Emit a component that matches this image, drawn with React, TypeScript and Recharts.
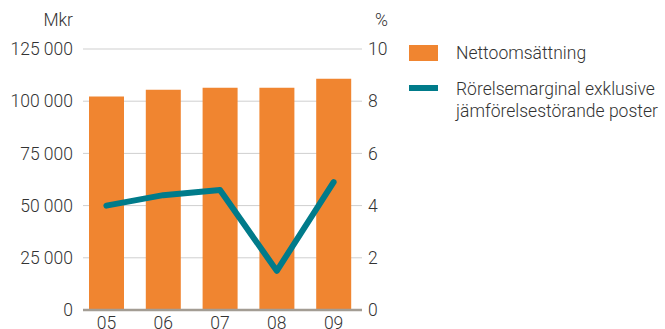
import {
  ComposedChart,
  Bar,
  Line,
  XAxis,
  YAxis,
  CartesianGrid,
  Legend,
  ReferenceLine,
} from 'recharts';

const years = ['05', '06', '07', '08', '09'];
const netSales = [102200, 105500, 106500, 106500, 110800];
const marginExcl = [4.0, 4.4, 4.6, 1.5, 4.9];
const leftTicks = [0, 25000, 50000, 75000, 100000, 125000];
const rightTicks = [0, 2, 4, 6, 8, 10];

const ORANGE = '#f08530';
const TEAL = '#007b8a';
const TEXT = '#333333';
const FONT = 'Roboto, "Liberation Sans", sans-serif';

const data = years.map((year, i) => ({
  year,
  sales: netSales[i],
  margin: marginExcl[i],
}));

const fmt = (v: number) => v.toLocaleString('en-US').replace(/,/g, ' ');

// grid lines start a few px right of the plot edge in the original
const gridLine = (p: any) => (
  <line
    key={p.key}
    x1={p.x1 + 5}
    x2={p.x2}
    y1={p.y1}
    y2={p.y2}
    stroke="#cfcfcf"
    strokeWidth={1}
  />
);

const zeroLine = (p: any) => (
  <line x1={p.x1 + 5} x2={p.x2} y1={p.y1} y2={p.y2} stroke="#a39d94" strokeWidth={2.5} />
);

function LegendBox() {
  const text = { fontFamily: FONT, fontWeight: 300, fontSize: 17.5, color: TEXT, lineHeight: '22px' };
  return (
    <div style={{ position: 'relative', width: 256 }}>
      <div style={{ position: 'absolute', left: 0, top: 0, width: 29, height: 16, background: ORANGE }} />
      <div style={{ position: 'absolute', left: 47, top: -3, ...text }}>Nettoomsättning</div>
      <div style={{ position: 'absolute', left: 0, top: 40, width: 29, height: 6, background: TEAL }} />
      <div style={{ position: 'absolute', left: 47, top: 33, width: 220, ...text }}>
        Rörelsemarginal exklusive
        <br />
        jämförelsestörande poster
      </div>
    </div>
  );
}

export default function App() {
  const tick = { fontSize: 17.5, fill: TEXT, fontFamily: FONT, fontWeight: 300 };
  return (
    <div style={{ position: 'absolute', left: 0, top: 0, width: 665, height: 329, background: '#fff' }}>
      <ComposedChart
        width={665}
        height={329}
        data={data}
        margin={{ top: 49, right: 0, left: 0, bottom: 0 }}
        barCategoryGap={11}
      >
        <CartesianGrid vertical={false} horizontal={gridLine} yAxisId="left" />
        <XAxis
          dataKey="year"
          height={19}
          axisLine={false}
          tickLine={false}
          tickSize={6}
          tickMargin={1}
          tick={tick}
          interval={0}
        />
        <YAxis
          yAxisId="left"
          width={78}
          domain={[0, 125000]}
          ticks={leftTicks}
          tickFormatter={fmt}
          axisLine={false}
          tickLine={false}
          tickSize={5}
          tickMargin={0}
          tick={tick}
          label={{
            content: (p: any) => (
              <text x={p.viewBox.x + 73} y={p.viewBox.y - 29} dy="0.35em" textAnchor="end" style={tick} fill={TEXT}>
                Mkr
              </text>
            ),
          }}
        />
        <YAxis
          yAxisId="right"
          orientation="right"
          width={303}
          domain={[0, 10]}
          ticks={rightTicks}
          axisLine={false}
          tickLine={false}
          tickSize={6}
          tickMargin={0}
          tick={{ ...tick, textAnchor: 'start' }}
          label={{
            content: (p: any) => (
              <text x={p.viewBox.x + 13} y={p.viewBox.y - 29} dy="0.35em" textAnchor="start" style={tick} fill={TEXT}>
                %
              </text>
            ),
          }}
        />
        {/* centred + vertical so recharts reserves no room for it; placed by wrapperStyle */}
        <Legend
          layout="vertical"
          verticalAlign="middle"
          align="center"
          wrapperStyle={{ left: 409, top: 45, width: 256 }}
          content={() => <LegendBox />}
        />
        <Bar yAxisId="left" dataKey="sales" name="Nettoomsättning" fill={ORANGE} isAnimationActive={false} />
        <ReferenceLine yAxisId="left" y={0} shape={zeroLine} />
        <Line
          yAxisId="right"
          dataKey="margin"
          name="Rörelsemarginal exklusive jämförelsestörande poster"
          type="linear"
          stroke={TEAL}
          strokeWidth={6}
          strokeLinejoin="round"
          strokeLinecap="round"
          dot={false}
          activeDot={false}
          isAnimationActive={false}
        />
      </ComposedChart>
    </div>
  );
}
